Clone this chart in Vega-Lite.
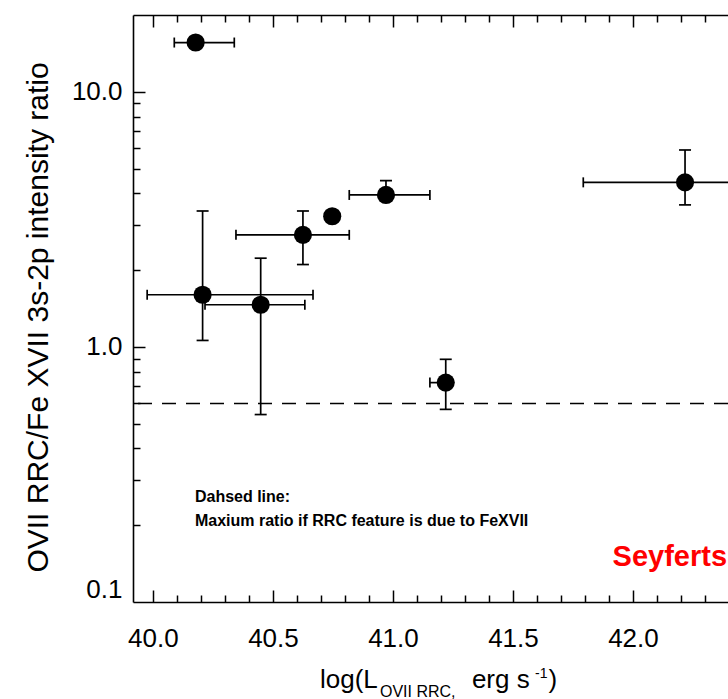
{
  "$schema": "https://vega.github.io/schema/vega-lite/v6.json",
  "width": 595,
  "height": 587,
  "autosize": {"type": "none"},
  "padding": {"left": 133, "top": 15, "right": 0, "bottom": 97},
  "background": "white",
  "config": {
    "view": {"stroke": null},
    "font": "Liberation Sans",
    "axis": {"grid": false, "domainColor": "black", "tickColor": "black", "labelColor": "black", "titleColor": "black", "domainWidth": 1.6, "tickWidth": 1.5}
  },
  "datasets": {
    "one": [{}],
    "points": [
      {"x": 40.178, "y": 15.6}, {"x": 40.207, "y": 1.601}, {"x": 40.449, "y": 1.463}, {"x": 40.625, "y": 2.749},
      {"x": 40.747, "y": 3.251}, {"x": 40.971, "y": 3.941}, {"x": 41.22, "y": 0.7244}, {"x": 42.217, "y": 4.416}
    ],
    "hbars": [
      {"y": 15.6, "x1": 40.089, "x2": 40.339}, {"y": 1.601, "x1": 39.976, "x2": 40.667}, {"y": 1.463, "x1": 40.217, "x2": 40.633},
      {"y": 2.749, "x1": 40.346, "x2": 40.818}, {"y": 3.941, "x1": 40.818, "x2": 41.154}, {"y": 0.7244, "x1": 41.154, "x2": 41.22},
      {"y": 4.416, "x1": 41.793, "x2": 42.6}
    ],
    "vcaps": [
      {"x": 40.089, "y": 15.6}, {"x": 40.339, "y": 15.6}, {"x": 39.976, "y": 1.601}, {"x": 40.667, "y": 1.601},
      {"x": 40.217, "y": 1.463}, {"x": 40.633, "y": 1.463}, {"x": 40.346, "y": 2.749}, {"x": 40.818, "y": 2.749},
      {"x": 40.818, "y": 3.941}, {"x": 41.154, "y": 3.941}, {"x": 41.154, "y": 0.7244}, {"x": 41.793, "y": 4.416}
    ],
    "vbars": [
      {"x": 40.207, "y1": 1.06, "y2": 3.41}, {"x": 40.449, "y1": 0.543, "y2": 2.227}, {"x": 40.625, "y1": 2.103, "y2": 3.41},
      {"x": 40.971, "y1": 3.941, "y2": 4.485}, {"x": 41.22, "y1": 0.569, "y2": 0.894}, {"x": 42.217, "y1": 3.603, "y2": 5.914}
    ],
    "hcaps": [
      {"x": 40.207, "y": 1.06}, {"x": 40.207, "y": 3.41}, {"x": 40.449, "y": 0.543}, {"x": 40.449, "y": 2.227},
      {"x": 40.625, "y": 2.103}, {"x": 40.625, "y": 3.41}, {"x": 40.971, "y": 4.485}, {"x": 41.22, "y": 0.569},
      {"x": 41.22, "y": 0.894}, {"x": 42.217, "y": 3.603}, {"x": 42.217, "y": 5.914}
    ]
  },
  "resolve": {"axis": {"x": "independent", "y": "independent"}},
  "layer": [
    {
      "data": {"name": "one"},
      "mark": {"type": "rule", "strokeDash": [14, 10], "strokeWidth": 1.5, "color": "black"},
      "encoding": {
        "y": {"datum": 0.6, "type": "quantitative", "scale": {"type": "log", "domain": [0.1, 20], "nice": false}, "axis": null}
      }
    },
    {
      "data": {"name": "hbars"},
      "mark": {"type": "rule", "strokeWidth": 1.7, "color": "black", "clip": true},
      "encoding": {
        "x": {"field": "x1", "type": "quantitative", "scale": {"domain": [39.917, 42.396], "nice": false, "zero": false},
          "axis": {"orient": "bottom", "values": [40, 40.5, 41, 41.5, 42], "format": ".1f", "ticks": false, "labelFontSize": 26, "labelPadding": 23, "labelFlush": false, "labelOverlap": false, "labelBound": false, "domain": true, "title": null}},
        "x2": {"field": "x2"},
        "y": {"field": "y", "type": "quantitative", "scale": {"type": "log", "domain": [0.1, 20], "nice": false},
          "axis": {"orient": "left", "values": [0.1, 1, 10], "labelExpr": "datum.value < 0.5 ? '0.1' : format(datum.value, '.1f')", "ticks": false, "labelFontSize": 26, "labelPadding": 11, "labelFlush": true, "labelOverlap": false, "labelBound": false, "domain": true,
            "title": "OVII RRC/Fe XVII 3s-2p intensity ratio", "titleFontSize": 30, "titleFontWeight": "normal", "titleX": -95, "titleY": 302, "titleAngle": -90, "titleBaseline": "middle", "titleAlign": "center"}}
      }
    },
    {
      "data": {"name": "vbars"},
      "mark": {"type": "rule", "strokeWidth": 1.7, "color": "black"},
      "encoding": {
        "x": {"field": "x", "type": "quantitative", "scale": {"domain": [39.917, 42.396], "nice": false, "zero": false},
          "axis": {"orient": "top", "offset": -587, "values": [40, 40.5, 41, 41.5, 42], "labels": false, "domain": false, "tickSize": 12, "title": null}},
        "y": {"field": "y1", "type": "quantitative", "scale": {"type": "log", "domain": [0.1, 20], "nice": false},
          "axis": {"orient": "right", "offset": -595, "values": [1, 10], "labels": false, "domain": false, "tickSize": 12, "title": null}},
        "y2": {"field": "y2"}
      }
    },
    {
      "data": {"name": "vcaps"},
      "mark": {"type": "tick", "orient": "vertical", "size": 10, "thickness": 1.7, "color": "black", "opacity": 1, "clip": true},
      "encoding": {
        "x": {"field": "x", "type": "quantitative", "scale": {"domain": [39.917, 42.396], "nice": false, "zero": false},
          "axis": {"orient": "top", "offset": -587, "values": [40.1, 40.2, 40.3, 40.4, 40.6, 40.7, 40.8, 40.9, 41.1, 41.2, 41.3, 41.4, 41.6, 41.7, 41.8, 41.9, 42.1, 42.2, 42.3], "labels": false, "domain": false, "tickSize": 7, "title": null}},
        "y": {"field": "y", "type": "quantitative", "scale": {"type": "log", "domain": [0.1, 20], "nice": false},
          "axis": {"orient": "right", "offset": -595, "values": [0.2, 0.3, 0.4, 0.5, 0.6, 0.7, 0.8, 0.9, 2, 3, 4, 5, 6, 7, 8, 9], "labels": false, "domain": false, "tickSize": 7, "title": null}}
      }
    },
    {
      "data": {"name": "hcaps"},
      "mark": {"type": "tick", "orient": "horizontal", "size": 12, "thickness": 1.7, "color": "black", "opacity": 1},
      "encoding": {
        "x": {"field": "x", "type": "quantitative", "scale": {"domain": [39.917, 42.396], "nice": false, "zero": false},
          "axis": {"orient": "bottom", "offset": -587, "values": [40, 40.5, 41, 41.5, 42], "labels": false, "domain": true, "tickSize": 12, "title": null}},
        "y": {"field": "y", "type": "quantitative", "scale": {"type": "log", "domain": [0.1, 20], "nice": false}, "axis": null}
      }
    },
    {
      "data": {"name": "points"},
      "mark": {"type": "circle", "size": 330, "color": "black", "opacity": 1},
      "encoding": {
        "x": {"field": "x", "type": "quantitative", "scale": {"domain": [39.917, 42.396], "nice": false, "zero": false},
          "axis": {"orient": "bottom", "offset": -587, "values": [40.1, 40.2, 40.3, 40.4, 40.6, 40.7, 40.8, 40.9, 41.1, 41.2, 41.3, 41.4, 41.6, 41.7, 41.8, 41.9, 42.1, 42.2, 42.3], "labels": false, "domain": false, "tickSize": 7, "title": null}},
        "y": {"field": "y", "type": "quantitative", "scale": {"type": "log", "domain": [0.1, 20], "nice": false}, "axis": null}
      }
    },
    {
      "data": {"name": "one"},
      "mark": {"type": "text", "text": "Dahsed line:", "align": "left", "baseline": "alphabetic", "fontSize": 16, "fontWeight": "bold", "color": "black"},
      "encoding": {
        "x": {"datum": 40.175, "type": "quantitative", "axis": null},
        "y": {"datum": 0.2462, "type": "quantitative", "axis": null}
      }
    },
    {
      "data": {"name": "one"},
      "mark": {"type": "text", "text": "Maxium ratio if RRC feature is due to FeXVII", "align": "left", "baseline": "alphabetic", "fontSize": 16, "fontWeight": "bold", "color": "black"},
      "encoding": {
        "x": {"datum": 40.175, "type": "quantitative", "axis": null},
        "y": {"datum": 0.1984, "type": "quantitative", "axis": null}
      }
    },
    {
      "data": {"name": "one"},
      "mark": {"type": "text", "text": "Seyferts", "align": "right", "baseline": "alphabetic", "fontSize": 29, "fontWeight": "bold", "color": "#ff0000"},
      "encoding": {
        "x": {"datum": 42.392, "type": "quantitative", "axis": null},
        "y": {"datum": 0.1383, "type": "quantitative", "axis": null}
      }
    },
    {
      "data": {"name": "one"},
      "mark": {"type": "text", "text": "log(L", "align": "left", "baseline": "alphabetic", "fontSize": 26, "dy": 86, "color": "black"},
      "encoding": {
        "x": {"datum": 40.696, "type": "quantitative", "axis": null},
        "y": {"datum": 0.1, "type": "quantitative", "axis": null}
      }
    },
    {
      "data": {"name": "one"},
      "mark": {"type": "text", "text": "OVII RRC,", "align": "left", "baseline": "alphabetic", "fontSize": 16, "dy": 95, "color": "black"},
      "encoding": {
        "x": {"datum": 40.946, "type": "quantitative", "axis": null},
        "y": {"datum": 0.1, "type": "quantitative", "axis": null}
      }
    },
    {
      "data": {"name": "one"},
      "mark": {"type": "text", "text": "erg s", "align": "left", "baseline": "alphabetic", "fontSize": 26, "dy": 86, "color": "black"},
      "encoding": {
        "x": {"datum": 41.329, "type": "quantitative", "axis": null},
        "y": {"datum": 0.1, "type": "quantitative", "axis": null}
      }
    },
    {
      "data": {"name": "one"},
      "mark": {"type": "text", "text": "-1", "align": "left", "baseline": "alphabetic", "fontSize": 14, "dy": 76, "color": "black"},
      "encoding": {
        "x": {"datum": 41.592, "type": "quantitative", "axis": null},
        "y": {"datum": 0.1, "type": "quantitative", "axis": null}
      }
    },
    {
      "data": {"name": "one"},
      "mark": {"type": "text", "text": ")", "align": "left", "baseline": "alphabetic", "fontSize": 26, "dy": 86, "color": "black"},
      "encoding": {
        "x": {"datum": 41.648, "type": "quantitative", "axis": null},
        "y": {"datum": 0.1, "type": "quantitative", "axis": null}
      }
    }
  ]
}
